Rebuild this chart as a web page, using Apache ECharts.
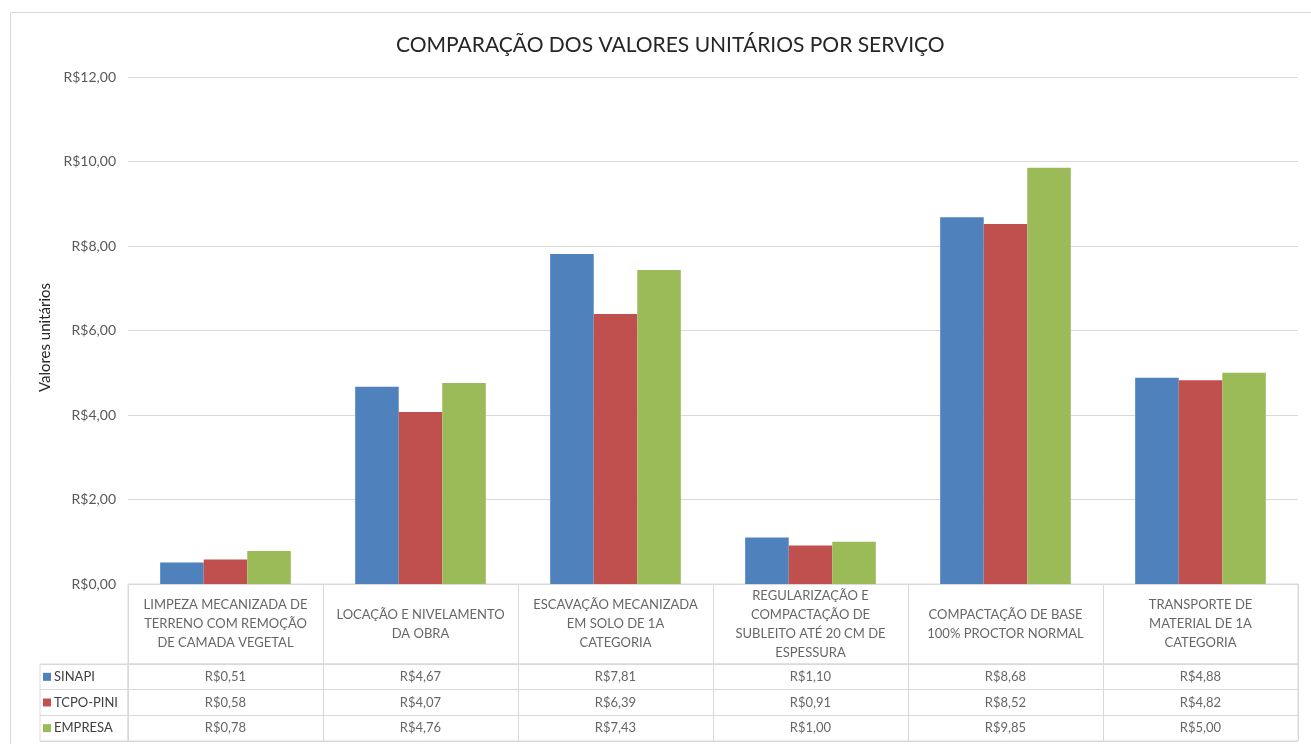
<!DOCTYPE html>
<html>
<head>
<meta charset="utf-8">
<title>Comparação dos valores unitários por serviço</title>
<script src="https://cdn.jsdelivr.net/npm/echarts@6/dist/echarts.min.js"></script>
<style>
    html, body { margin: 0; padding: 0; background: #fff; }
    #main { width: 1311px; height: 744px; }
</style>
</head>
<body>
<div id="main"></div>
<script>
// categorias (com as quebras de linha como no original)
var categorias = [
    'LIMPEZA MECANIZADA DE\nTERRENO COM REMOÇÃO\nDE CAMADA VEGETAL',
    'LOCAÇÃO E NIVELAMENTO\nDA OBRA',
    'ESCAVAÇÃO MECANIZADA\nEM SOLO DE 1A\nCATEGORIA',
    'REGULARIZAÇÃO E\nCOMPACTAÇÃO DE\nSUBLEITO ATÉ 20 CM DE\nESPESSURA',
    'COMPACTAÇÃO DE BASE\n100% PROCTOR NORMAL',
    'TRANSPORTE DE\nMATERIAL DE 1A\nCATEGORIA'
];
var nomesSeries = ['SINAPI', 'TCPO-PINI', 'EMPRESA'];
var sinapi  = [0.51, 4.67, 7.81, 1.10, 8.68, 4.88];
var tcpo    = [0.58, 4.07, 6.39, 0.91, 8.52, 4.82];
var empresa = [0.78, 4.76, 7.43, 1.00, 9.85, 5.00];
// eixo y
var yMin = 0, yMax = 12, yPasso = 2;

var valores = [sinapi, tcpo, empresa];
var cores = ['#4F81BD', '#C0504D', '#9BBB59'];
var fonte = 'Lato, "Liberation Sans", sans-serif';
var corTexto = '#404040';
var corLinha = '#d9d9d9';

function reais(v) {
    return 'R$' + v.toFixed(2).replace('.', ',');
}

var chart = echarts.init(document.getElementById('main'));

// marcadores coloridos da coluna da legenda
var rich = {};
cores.forEach(function (c, i) {
    rich['m' + i] = { width: 8, height: 8, backgroundColor: c };
});
rich.t = { fontSize: 13, color: corTexto, fontFamily: fonte, padding: [0, 0, 0, 3] };

var series = [];
// barras
nomesSeries.forEach(function (nome, i) {
    series.push({
        name: nome,
        type: 'bar',
        xAxisIndex: 0,
        yAxisIndex: 0,
        barGap: '0%',
        barCategoryGap: '33%',
        itemStyle: { color: cores[i] },
        data: valores[i]
    });
});
// cabeçalho da tabela (nomes dos serviços)
series.push({
    name: 'cabecalho',
    type: 'scatter',
    xAxisIndex: 1,
    yAxisIndex: 1,
    symbolSize: 1,
    itemStyle: { color: 'transparent' },
    silent: true,
    label: {
        show: true,
        position: 'inside',
        formatter: '{b}',
        fontSize: 13,
        lineHeight: 19,
        color: corTexto,
        fontFamily: fonte,
        align: 'center'
    },
    data: categorias.map(function (c, i) { return { name: c, value: [i, 0.5] }; })
});
// linhas de valores da tabela
nomesSeries.forEach(function (nome, r) {
    series.push({
        name: 'tabela-' + nome,
        type: 'scatter',
        xAxisIndex: 2,
        yAxisIndex: 2,
        symbolSize: 1,
        itemStyle: { color: 'transparent' },
        silent: true,
        label: {
            show: true,
            position: 'inside',
            formatter: function (p) { return reais(valores[r][p.dataIndex]); },
            fontSize: 13,
            color: corTexto,
            fontFamily: fonte
        },
        data: valores[r].map(function (v, i) { return [i, r]; })
    });
});

var option = {
    backgroundColor: '#fff',
    animation: false,
    textStyle: { fontFamily: fonte },
    title: {
        text: 'COMPARAÇÃO DOS VALORES UNITÁRIOS POR SERVIÇO',
        left: 391,
        top: 30,
        textStyle: { fontSize: 21, fontWeight: 'normal', color: '#262626', fontFamily: fonte }
    },
    legend: { show: false },
    tooltip: { show: false },
    graphic: [{
        type: 'rect',
        silent: true,
        z: -10,
        shape: { x: 10.5, y: 12.5, width: 1320, height: 760 },
        style: { fill: 'none', stroke: corLinha, lineWidth: 1 }
    }],
    grid: [
        // gráfico
        { left: 128, right: 13, top: 77, bottom: 160 },
        // cabeçalho da tabela
        { left: 128, right: 13, top: 584, height: 80, show: true, borderColor: corLinha, borderWidth: 1 },
        // valores da tabela
        { left: 128, right: 13, top: 664, height: 77, show: true, borderColor: corLinha, borderWidth: 1 },
        // coluna da legenda
        { left: 40, width: 88, top: 664, height: 77, show: true, borderColor: corLinha, borderWidth: 1 }
    ],
    xAxis: [
        {
            type: 'category', gridIndex: 0, data: categorias,
            axisLabel: { show: false }, axisTick: { show: false }, axisLine: { show: false }
        },
        {
            type: 'category', gridIndex: 1, data: categorias,
            axisLabel: { show: false }, axisTick: { show: false }, axisLine: { show: false },
            splitLine: { show: true, interval: 0, lineStyle: { color: corLinha } }
        },
        {
            type: 'category', gridIndex: 2, data: categorias,
            axisLabel: { show: false }, axisTick: { show: false }, axisLine: { show: false },
            splitLine: { show: true, interval: 0, lineStyle: { color: corLinha } }
        },
        {
            type: 'category', gridIndex: 3, data: [''],
            axisLabel: { show: false }, axisTick: { show: false }, axisLine: { show: false }
        }
    ],
    yAxis: [
        {
            type: 'value', gridIndex: 0, min: yMin, max: yMax, interval: yPasso,
            name: 'Valores unitários',
            nameLocation: 'middle',
            nameGap: 75,
            nameTextStyle: { fontSize: 15, color: '#262626', fontFamily: fonte, padding: [0, 0, 0, -14] },
            axisLine: { show: false },
            axisTick: { show: false },
            axisLabel: {
                formatter: function (v) { return reais(v); },
                fontSize: 14, color: '#595959', margin: 12, fontFamily: fonte
            },
            splitLine: { lineStyle: { color: corLinha } }
        },
        { type: 'value', gridIndex: 1, min: 0, max: 1, show: false },
        {
            type: 'category', gridIndex: 2, data: nomesSeries, inverse: true,
            axisLabel: { show: false }, axisTick: { show: false }, axisLine: { show: false },
            splitLine: { show: true, interval: 0, lineStyle: { color: corLinha } }
        },
        {
            type: 'category', gridIndex: 3, data: nomesSeries, inverse: true,
            axisTick: { show: false }, axisLine: { show: false },
            splitLine: { show: true, interval: 0, lineStyle: { color: corLinha } },
            axisLabel: {
                inside: true,
                margin: 3,
                interval: 0,
                formatter: function (v, i) { return '{m' + i + '|}{t|' + v + '}'; },
                rich: rich
            }
        }
    ],
    series: series
};

chart.setOption(option);
</script>
</body>
</html>
